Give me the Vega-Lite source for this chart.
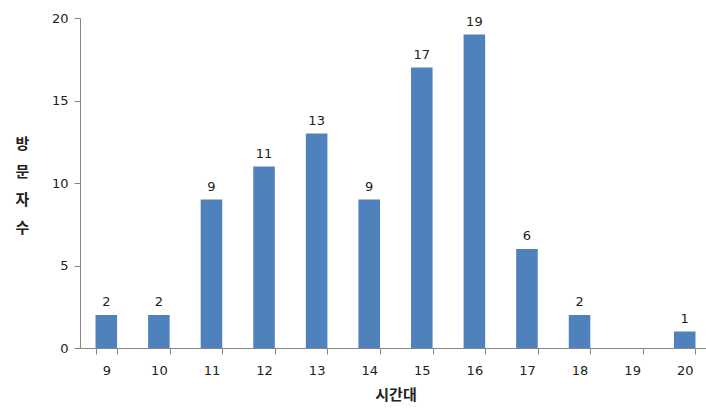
{
  "$schema": "https://vega.github.io/schema/vega-lite/v6.json",
  "autosize": "none",
  "padding": {"left": 80, "top": 18, "right": 0, "bottom": 71},
  "width": 631,
  "height": 330,
  "background": "white",
  "data": {"values": [
    {"hour": "9", "count": 2},
    {"hour": "10", "count": 2},
    {"hour": "11", "count": 9},
    {"hour": "12", "count": 11},
    {"hour": "13", "count": 13},
    {"hour": "14", "count": 9},
    {"hour": "15", "count": 17},
    {"hour": "16", "count": 19},
    {"hour": "17", "count": 6},
    {"hour": "18", "count": 2},
    {"hour": "19", "count": 0},
    {"hour": "20", "count": 1}
  ]},
  "config": {
    "view": {"stroke": null},
    "font": "DejaVu Sans"
  },
  "encoding": {
    "x": {
      "field": "hour", "type": "ordinal", "sort": null,
      "scale": {"paddingInner": 0.59, "paddingOuter": 0.295},
      "axis": {
        "title": "시간대", "titleFont": "Noto Sans CJK KR", "titleFontSize": 15, "titleFontWeight": "bold",
        "titleColor": "#222", "titlePadding": 10,
        "labelAngle": 0, "labelFontSize": 13, "labelColor": "#222", "labelPadding": 10,
        "domainColor": "#868686", "tickColor": "#868686", "tickSize": 6, "tickBand": "extent",
        "grid": false
      }
    },
    "y": {
      "field": "count", "type": "quantitative",
      "scale": {"domain": [0, 20]},
      "axis": {
        "values": [0, 5, 10, 15, 20],
        "title": ["방", "문", "자", "수"], "titleAngle": 0, "titleFont": "Noto Sans CJK KR", "titleFontSize": 15,
        "titleFontWeight": "bold", "titleColor": "#222", "titleX": -58, "titleY": 118, "titleBaseline": "top",
        "titleAlign": "center", "titleLineHeight": 28,
        "labelFontSize": 13, "labelColor": "#222", "labelPadding": 6,
        "domainColor": "#868686", "tickColor": "#868686", "tickSize": 6,
        "grid": false
      }
    }
  },
  "layer": [
    {"mark": {"type": "bar", "color": "#4F81BD"}},
    {"transform": [{"filter": "datum.count > 0"}],
     "mark": {"type": "text", "dy": -13, "fontSize": 13, "color": "#222"}, "encoding": {"text": {"field": "count", "type": "quantitative"}}}
  ]
}
